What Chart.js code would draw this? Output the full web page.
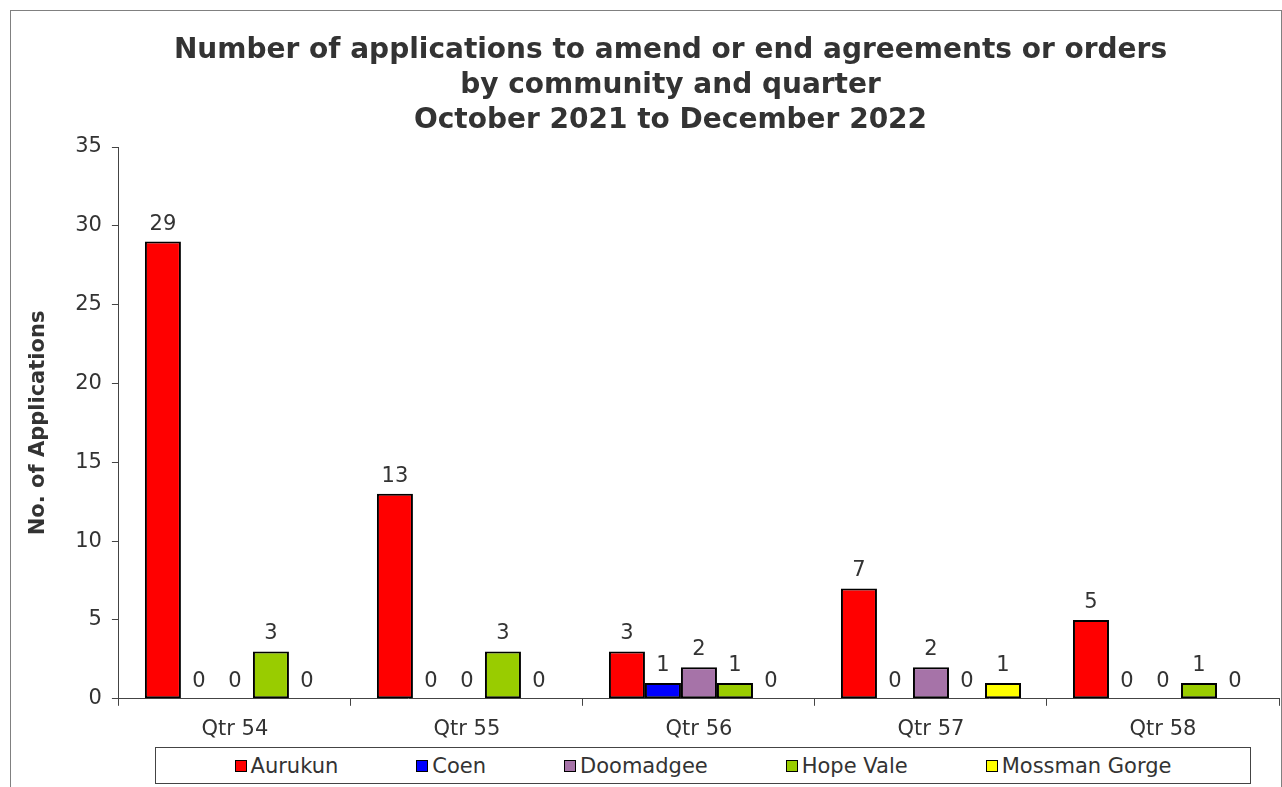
<!DOCTYPE html>
<html>
<head>
<meta charset="utf-8">
<script src="https://cdn.jsdelivr.net/npm/chart.js@4.4.1/dist/chart.umd.min.js"></script>
<style>
    body { margin: 0; background: #fff; font-family: "DejaVu Sans", sans-serif; }
    #frame { position: absolute; left: 10px; top: 10px; width: 1270px; height: 800px; border: 1px solid #808080; border-bottom: none; }
    #wrap { position: absolute; left: 0; top: 0; width: 1282px; height: 787px; }
    #legend { position: absolute; left: 155px; top: 747px; width: 1094px; height: 35px; border: 1px solid #444;
              display: flex; align-items: center; justify-content: center; gap: 78px; font-size: 21px; color: #333; background: #fff; }
    .item { display: flex; align-items: center; }
    .box { width: 10px; height: 10px; border: 1.5px solid #000; margin-right: 4px; }
</style>
</head>
<body>
<div id="frame"></div>
<div id="wrap"><canvas id="chart"></canvas></div>
<div id="legend"></div>
<script>
// Chart data
const quarters = ['Qtr 54', 'Qtr 55', 'Qtr 56', 'Qtr 57', 'Qtr 58'];
const communities = ['Aurukun', 'Coen', 'Doomadgee', 'Hope Vale', 'Mossman Gorge'];
const colours = ['#ff0000', '#0000ff', '#a673a8', '#99cc00', '#ffff00'];
const aurukun = [29, 13, 3, 7, 5];
const coen = [0, 0, 1, 0, 0];
const doomadgee = [0, 0, 2, 2, 0];
const hopeVale = [3, 3, 1, 0, 1];
const mossmanGorge = [0, 0, 0, 1, 0];
const yTicks = [0, 5, 10, 15, 20, 25, 30, 35];
const titleLines = [
    'Number of applications to amend or end agreements or orders',
    'by community and quarter',
    'October 2021 to December 2022'
];

const seriesValues = [aurukun, coen, doomadgee, hopeVale, mossmanGorge];

// Draws the value above every bar, zeros included
const valueLabels = {
    id: 'valueLabels',
    afterDatasetsDraw(chart) {
        const ctx = chart.ctx;
        ctx.save();
        ctx.font = '21px "DejaVu Sans"';
        ctx.fillStyle = '#333';
        ctx.textAlign = 'center';
        ctx.textBaseline = 'bottom';
        chart.data.datasets.forEach((ds, i) => {
            const meta = chart.getDatasetMeta(i);
            meta.data.forEach((bar, j) => {
                ctx.fillText(String(ds.data[j]), bar.x, bar.y - 7);
            });
        });
        ctx.restore();
    }
};

// Title sits a little right of the canvas centre in the original
const titleShift = {
    id: 'titleShift',
    afterLayout(chart) { chart.titleBlock.left += 36; }
};

function initChart() {
    const ctx = document.getElementById('chart').getContext('2d');
    new Chart(ctx, {
        type: 'bar',
        data: {
            labels: quarters,
            datasets: communities.map((name, i) => ({
                label: name,
                data: seriesValues[i],
                backgroundColor: colours[i],
                borderColor: '#000',
                borderWidth: c => c.raw === 0 ? 0 : 2,
                borderSkipped: false,
                barPercentage: 1,
                categoryPercentage: 0.776
            }))
        },
        options: {
            responsive: true,
            maintainAspectRatio: false,
            animation: false,
            layout: { padding: { left: 26, right: 3, top: 20, bottom: 34 } },
            scales: {
                x: {
                    grid: { display: true, drawOnChartArea: false, drawTicks: true, tickLength: 7, color: '#444', offset: true },
                    border: { color: '#444', width: 1 },
                    ticks: { color: '#333', font: { family: 'DejaVu Sans', size: 21 }, padding: 11 }
                },
                y: {
                    min: 0,
                    max: 35,
                    afterBuildTicks: axis => { axis.ticks = yTicks.map(v => ({ value: v })); },
                    grid: { display: true, drawOnChartArea: false, drawTicks: true, tickLength: 7, color: '#444' },
                    border: { color: '#444', width: 1 },
                    ticks: { color: '#333', font: { family: 'DejaVu Sans', size: 21 }, padding: 10 },
                    title: {
                        display: true,
                        text: 'No. of Applications',
                        color: '#333',
                        font: { family: 'DejaVu Sans', size: 21, weight: 'bold' },
                        padding: { top: 0, bottom: 14 }
                    }
                }
            },
            plugins: {
                legend: { display: false },
                tooltip: { enabled: false },
                title: {
                    display: true,
                    text: titleLines,
                    color: '#333',
                    font: { family: 'DejaVu Sans', size: 28, weight: 'bold', lineHeight: 1.25 },
                    padding: { top: 13, bottom: 9 }
                }
            }
        },
        plugins: [valueLabels, titleShift]
    });

    // Legend box below the chart
    const legend = document.getElementById('legend');
    communities.forEach((name, i) => {
        const item = document.createElement('div');
        item.className = 'item';
        item.innerHTML = `<span class="box" style="background:${colours[i]}"></span><span>${name}</span>`;
        legend.appendChild(item);
    });
}

document.addEventListener('DOMContentLoaded', initChart);
</script>
</body>
</html>
